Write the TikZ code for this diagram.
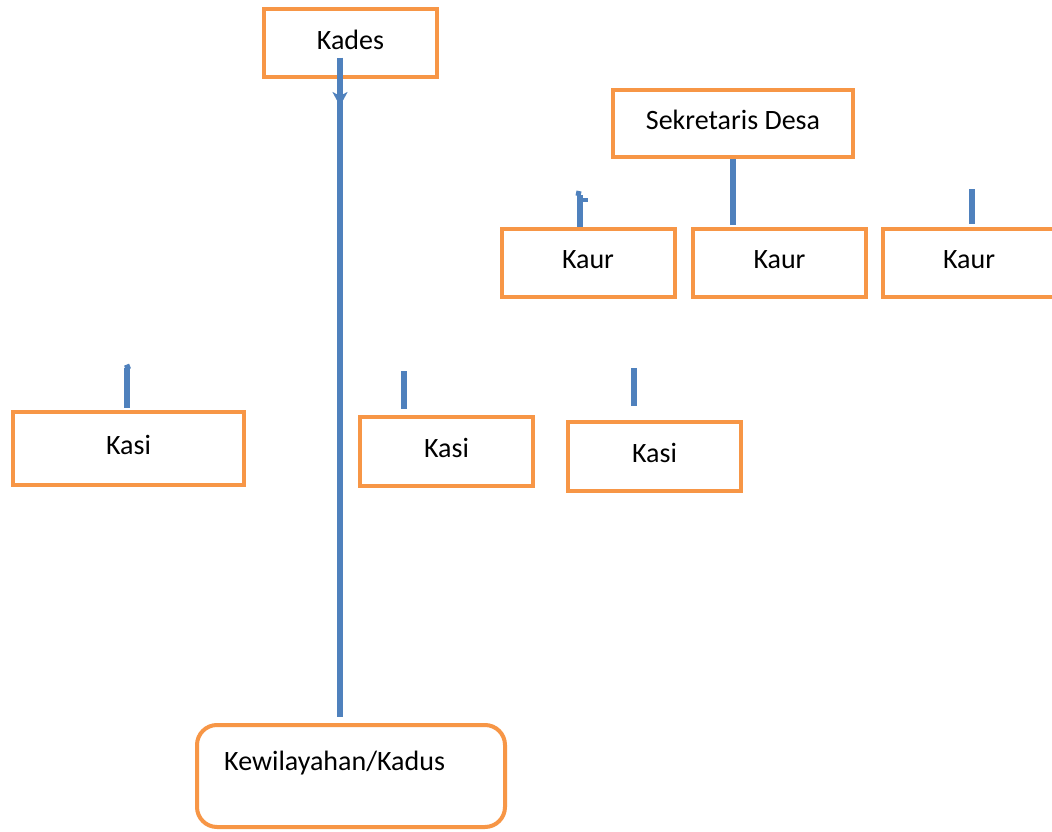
\documentclass[tikz,border=0pt]{standalone}
\usepackage{fontspec}
\setmainfont{Carlito}
\usetikzlibrary{arrows.meta}
\definecolor{boxorange}{HTML}{F79646}
\definecolor{lineblue}{HTML}{4F81BD}
\tikzset{
  box/.style={draw=boxorange, line width=4pt, inner sep=0pt,
    minimum width=173pt, minimum height=68pt, text depth=7pt,
    font=\fontsize{28}{34}\selectfont},
  conn/.style={draw=lineblue, line width=6pt}
}
\begin{document}
\begin{tikzpicture}[x=1pt,y=-1pt]
    \clip (0,0) rectangle (1052,832);
    \fill[white] (0,0) rectangle (1052,832);

    \node[box] (kades) at (350.5,43) {Kades};
    \node[box,minimum width=240pt,minimum height=67pt] (sekdes) at (733,123.5) {Sekretaris Desa};

    \node[box] (kaur1) at (588,263) {Kaur};
    \node[box] (kaur2) at (779.5,263) {Kaur};
    \node[box] (kaur3) at (969,263) {Kaur};

    \node[box,minimum width=231pt,minimum height=73pt] (kasi1) at (128.5,448.5) {Kasi};
    \node[box,minimum height=69pt] (kasi2) at (446.5,451.5) {Kasi};
    \node[box,minimum height=69pt] (kasi3) at (654.5,456.5) {Kasi};

    \node[draw=boxorange,line width=4pt,rounded corners=20pt,
      minimum width=308pt,minimum height=102pt] (kadus) at (351,776) {};
    \node[anchor=west,inner sep=0pt,font=\fontsize{28}{34}\selectfont]
      (kadustext) at (224,763) {Kewilayahan/Kadus};

    % garis dari kades
    \coordinate (kdtop) at (340,58);
    \coordinate (kdtip) at (340,106);
    \coordinate (kdend) at (340,717);
    \draw[conn] (kdtop) -- (kdend);
    \draw[conn,-{Stealth[length=14pt,width=15pt,inset=4pt]}] (kdtop) -- (kdtip);

    % potongan garis
    \coordinate (s1) at (580,195);
    \coordinate (s3) at (972,189);
    \coordinate (k1) at (127,368);
    \coordinate (k2) at (404,371);
    \coordinate (k3) at (634,368);
    \draw[conn] (sekdes.south) -- ++(0,66);
    \draw[conn] (s1) -- ++(0,32);
    \draw[lineblue,line width=5pt] (s1) ++(-4,-2) -- ++(5,1);
    \draw[lineblue,line width=4pt] (s1) ++(1,5) -- ++(7,0);
    \draw[conn] (s3) -- ++(0,35);
    \draw[conn] (k1) -- ++(0,40);
    \draw[lineblue,line width=5pt] (k1) ++(-2,0) -- ++(5,-2);
    \draw[conn] (k2) -- ++(0,38);
    \draw[conn] (k3) -- ++(0,38);
\end{tikzpicture}
\end{document}
